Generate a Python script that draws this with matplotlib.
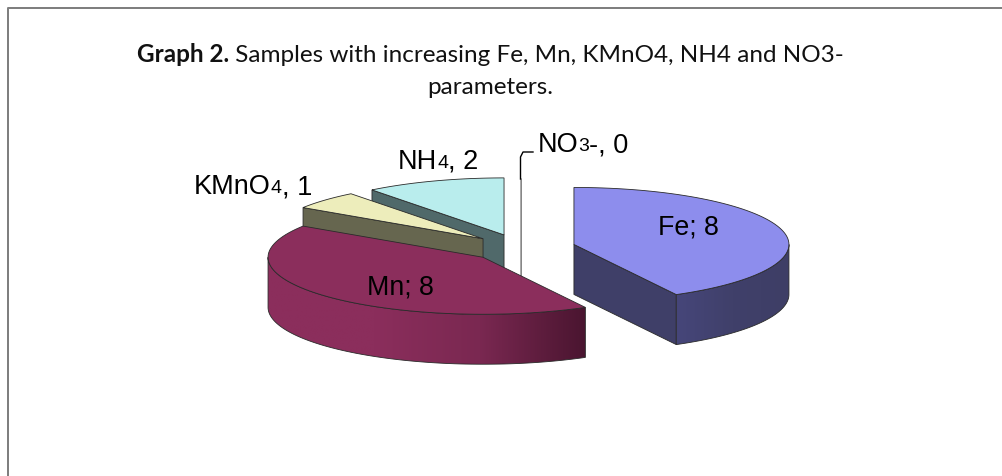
import numpy as np
import matplotlib
matplotlib.use('Agg')
import matplotlib.pyplot as plt
from matplotlib.patches import Polygon

# Pie data, clockwise from 12 o'clock
categories = ['Fe', 'Mn', 'KMnO4', 'NH4', 'NO3-']
values = [8, 8, 1, 2, 0]

top_colors = ['#8d8ded', '#8b2e5c', '#ededbb', '#b9eded', '#ffffff']
wall_colors = ['#3f3f68', '#8b2e5c', '#66664f', '#50696a', '#d8d8d8']

# Layout of the fake 3D pie, in image pixels
CX, CY = 521, 248
RX, RY = 215, 57
DEPTH = 50
EXPLODE = [0.254, 0.24, 0.24, 0.243, 0.21]
EDGE = '#2a2a2a'


def slice_points(theta1, theta2, x0, y0, dy=0):
    t = np.radians(np.linspace(theta1, theta2, 80))
    return np.column_stack([x0 + RX * np.sin(t), y0 - RY * np.cos(t) + dy])


def radial_wall(ax, theta, x0, y0, color, zorder):
    t = np.radians(theta)
    x1, y1 = x0 + RX * np.sin(t), y0 - RY * np.cos(t)
    pts = [(x0, y0), (x1, y1), (x1, y1 + DEPTH), (x0, y0 + DEPTH)]
    ax.add_patch(Polygon(pts, fc=color, ec=EDGE, lw=0.6, zorder=zorder))


def outer_wall(ax, theta1, theta2, x0, y0, stops, zorder):
    top = slice_points(theta1, theta2, x0, y0)
    bottom = slice_points(theta2, theta1, x0, y0, DEPTH)
    poly = Polygon(np.vstack([top, bottom]), fc='none', ec=EDGE, lw=0.6, zorder=zorder + 0.1)
    ax.add_patch(poly)
    xs = np.linspace(0, 1, 256)
    rgb = np.array([matplotlib.colors.to_rgb(c) for c in stops])
    pos = np.linspace(0, 1, len(stops))
    grad = np.stack([np.interp(xs, pos, rgb[:, i]) for i in range(3)], axis=1)[None, :, :]
    ymin, ymax = top[:, 1].min(), bottom[:, 1].max()
    xmin, xmax = min(top[:, 0].min(), bottom[:, 0].min()), max(top[:, 0].max(), bottom[:, 0].max())
    im = ax.imshow(grad, extent=[xmin, xmax, ymax, ymin], aspect='auto', zorder=zorder)
    im.set_clip_path(poly)


fig = plt.figure(figsize=(10.03, 4.76), dpi=100)
ax = fig.add_axes([0, 0, 1, 1])

# Work out the slice angles from the values
fractions = np.array(values) / sum(values) * 360
ends = np.cumsum(fractions)
starts = ends - fractions

# Back to front: NO3-, NH4, KMnO4, Fe, Mn
order = [4, 3, 2, 0, 1]
gradients = {0: ['#46467a', '#40406a', '#3e3e66'],
             1: ['#8b2e5c', '#8b2e5c', '#7a2851', '#4a1530']}
for z, i in enumerate(order):
    th1, th2 = starts[i], ends[i]
    mid = np.radians((th1 + th2) / 2)
    x0 = CX + EXPLODE[i] * RX * np.sin(mid)
    y0 = CY - EXPLODE[i] * RY * np.cos(mid)
    base = 10 + z * 5
    if np.sin(np.radians(th1)) < 0:
        radial_wall(ax, th1, x0, y0, wall_colors[i], base)
    if np.sin(np.radians(th2)) > 0:
        radial_wall(ax, th2, x0, y0, wall_colors[i], base)
    lo, hi = max(th1, 90), min(th2, 270)
    if hi > lo:
        outer_wall(ax, lo, hi, x0, y0, gradients[i], base + 1)
    arc = slice_points(th1, th2, x0, y0)
    ax.add_patch(Polygon(np.vstack([[x0, y0], arc]), fc=top_colors[i], ec=EDGE, lw=0.6,
                         zorder=base + 2))
    if values[i] == 0:
        # zero slice only shows up as a thin grey sliver
        ax.plot([x0, x0], [y0 - RY, y0 + DEPTH], color='#9a9a9a', lw=1.2, zorder=base + 2)

# Leader line for the zero slice
ax.plot([520.5, 520.5, 523, 533], [179, 157, 152, 152], color='black', lw=1, zorder=40)

# Data labels
label_font = dict(family='Liberation Sans', color='black', zorder=50, va='center')
ax.text(688, 227, 'Fe; 8', fontsize=19.3, ha='center', **label_font)
ax.text(400, 288, 'Mn; 8', fontsize=19.3, ha='center', **label_font)
for x, y, name, sub, val in [(194, 187, 'KMnO', '4', ', 1'), (398, 162, 'NH', '4', ', 2'),
                             (538, 145, 'NO', '3', '-, 0')]:
    t = ax.text(x, y, name, fontsize=19.5, ha='left', **label_font)
    t2 = ax.annotate(sub, xycoords=t, xy=(1, 0.5), va='center', ha='left', fontsize=14,
                     family='Liberation Sans', zorder=50, xytext=(0, -1), textcoords='offset points')
    ax.annotate(val, xycoords=t2, xy=(1, 0.5), va='center', ha='left', fontsize=19.5,
                family='Liberation Sans', zorder=50, xytext=(0, 1), textcoords='offset points')

# Title, bold lead-in then regular text
t = ax.text(137, 55, 'Graph 2.', fontsize=17.5, family='Lato', fontweight='bold',
            ha='left', va='center', color='#111111')
ax.annotate(' Samples with increasing Fe, Mn, KMnO4, NH4 and NO3-', xycoords=t, xy=(1, 0.5),
            va='center', ha='left', fontsize=17.5, family='Lato', color='#111111')
ax.text(490, 88, 'parameters.', fontsize=17.5, family='Lato', ha='center', va='center',
        color='#111111')

# Page frame
ax.plot([8, 8, 1003], [476, 8, 8], color='#7f7f7f', lw=1.44, zorder=60)

ax.set_xlim(0, 1003)
ax.set_ylim(476, 0)
ax.axis('off')

fig.savefig('out.png', dpi=100, facecolor='white')
